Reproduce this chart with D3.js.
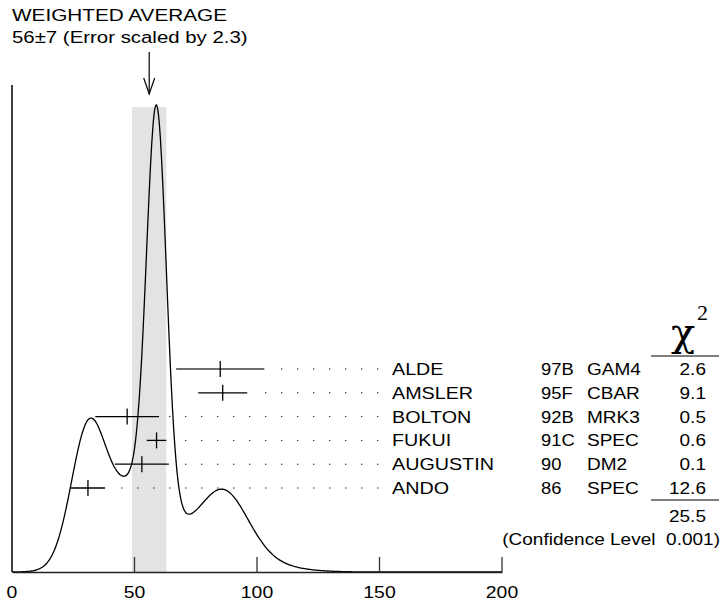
<!DOCTYPE html>
<html>
<head>
<meta charset="utf-8">
<script src="https://cdn.jsdelivr.net/npm/d3@7"></script>
<style>
  html, body { margin: 0; padding: 0; background: #fff; }
  svg { display: block; }
  text { font-family: "Liberation Sans", Arial, Helvetica, sans-serif; fill: #000; }
</style>
</head>
<body>
<svg id="chart" width="726" height="604"></svg>
<script>
// ---- data ----
const authors   = ["ALDE", "AMSLER", "BOLTON", "FUKUI", "AUGUSTIN", "ANDO"];
const refs      = ["97B", "95F", "92B", "91C", "90", "86"];
const methods   = ["GAM4", "CBAR", "MRK3", "SPEC", "DM2", "SPEC"];
const values    = [85, 86, 47, 59, 53, 31];
const errors    = [18, 10, 13, 4, 11, 7];
const chi2      = ["2.6", "9.1", "0.5", "0.6", "0.1", "12.6"];
const chi2Total = "25.5";
const confLevel = "0.001";
const avgValue  = 56;
const avgError  = 7;
const errScale  = "2.3";
const xTicks    = [0, 50, 100, 150, 200];

// ---- layout ----
const svg = d3.select("#chart");
const FS = 17;
const x = d3.scaleLinear().domain([0, 200]).range([12, 502]);
const baseY = 572;
const rowY = d3.scalePoint().domain(authors).range([369, 488]);

function txt(px, py, s, anchor, sx, size) {
  const g = svg.append("g").attr("transform", `translate(${px},${py}) scale(${sx || 1.16},1)`);
  return g.append("text").attr("x", 0).attr("y", 0)
    .attr("font-size", size || FS)
    .attr("text-anchor", anchor || "start")
    .text(s);
}

// ---- shaded band for weighted average ----
svg.append("rect")
  .attr("x", x(avgValue - avgError)).attr("y", 107)
  .attr("width", x(avgValue + avgError) - x(avgValue - avgError))
  .attr("height", baseY - 107)
  .attr("fill", "#e3e3e3");

// ---- ideogram curve (sum of gaussians built from the measurements) ----
const grid = d3.range(0, 200.25, 0.5);
const curve = grid.map(v => {
  let s = 0;
  values.forEach((m, i) => {
    const e = errors[i];
    s += Math.exp(-0.5 * ((v - m) / e) ** 2) / (e * e);
  });
  return [v, s];
});
const yMax = d3.max(curve, d => d[1]);
const y = d3.scaleLinear().domain([0, yMax]).range([baseY, 104]);
svg.append("path")
  .datum(curve)
  .attr("fill", "none").attr("stroke", "#000").attr("stroke-width", 1.3)
  .attr("d", d3.line().x(d => x(d[0])).y(d => y(d[1])).curve(d3.curveBasis));

// ---- axes ----
const axis = d3.axisBottom(x).tickValues(xTicks).tickSize(0).tickFormat(d3.format("d"));
const axG = svg.append("g").attr("transform", `translate(0,${baseY})`).call(axis);
axG.select(".domain").attr("stroke", "#222").attr("stroke-width", 1.6);
axG.selectAll(".tick text").remove();
xTicks.slice(1).forEach(t => {
  svg.append("line").attr("x1", x(t)).attr("x2", x(t))
    .attr("y1", baseY - 15).attr("y2", baseY)
    .attr("stroke", "#333").attr("stroke-width", 1.3);
});
xTicks.forEach(t => txt(x(t), 598, String(t), "middle", 1.14));
svg.append("line").attr("x1", x(0)).attr("x2", x(0)).attr("y1", 85).attr("y2", baseY)
  .attr("stroke", "#000").attr("stroke-width", 1.5);

// ---- measurements ----
authors.forEach((a, i) => {
  const yy = rowY(a);
  const lo = x(values[i] - errors[i]), hi = x(values[i] + errors[i]);
  svg.append("line").attr("x1", lo).attr("x2", hi).attr("y1", yy).attr("y2", yy)
    .attr("stroke", i === 0 ? "#6e6e6e" : "#000").attr("stroke-width", i === 0 ? 2 : 1.3);
  svg.append("line").attr("x1", x(values[i])).attr("x2", x(values[i]))
    .attr("y1", yy - 8).attr("y2", yy + 8)
    .attr("stroke", "#000").attr("stroke-width", 1.3);
  const dots = d3.range(121.7, 380, 16).filter(d => d > hi + 8);
  svg.selectAll(null).data(dots).enter().append("circle")
    .attr("cx", d => d).attr("cy", yy).attr("r", 0.75).attr("fill", "#333");
  txt(392, yy + 6, a, "start");
  txt(541, yy + 6, refs[i], "start", 1.08);
  txt(587, yy + 6, methods[i], "start", 1.12);
  txt(706, yy + 6, chi2[i], "end", 1.12);
});

// chi2 header
svg.append("text").attr("x", 683).attr("y", 346)
  .attr("text-anchor", "middle").attr("font-size", 40)
  .style("font-family", "'DejaVu Serif', serif")
  .text("\u03C7");
svg.append("text").attr("x", 697).attr("y", 320)
  .attr("font-size", 22)
  .style("font-family", "'Liberation Serif', 'Times New Roman', serif")
  .text("2");
svg.append("line").attr("x1", 651).attr("x2", 719).attr("y1", 356).attr("y2", 356)
  .attr("stroke", "#555").attr("stroke-width", 1.3);
svg.append("line").attr("x1", 651).attr("x2", 719).attr("y1", 500).attr("y2", 500)
  .attr("stroke", "#555").attr("stroke-width", 1.3);
txt(706, 522, chi2Total, "end", 1.12);
txt(720, 545, "(Confidence Level\u00A0\u00A0" + confLevel + ")", "end", 1.12);

// ---- title & arrow ----
txt(12, 21, "WEIGHTED AVERAGE", "start", 1.22);
txt(12, 43, `${avgValue}\u00B1${avgError} (Error scaled by ${errScale})`, "start", 1.2);
const ax = x(avgValue);
svg.append("line").attr("x1", ax).attr("x2", ax).attr("y1", 52).attr("y2", 94)
  .attr("stroke", "#000").attr("stroke-width", 1.2);
svg.append("path").attr("d", `M${ax - 5.5},78 L${ax},94 L${ax + 5.5},78`)
  .attr("fill", "none").attr("stroke", "#000").attr("stroke-width", 1.2);
</script>
</body>
</html>
